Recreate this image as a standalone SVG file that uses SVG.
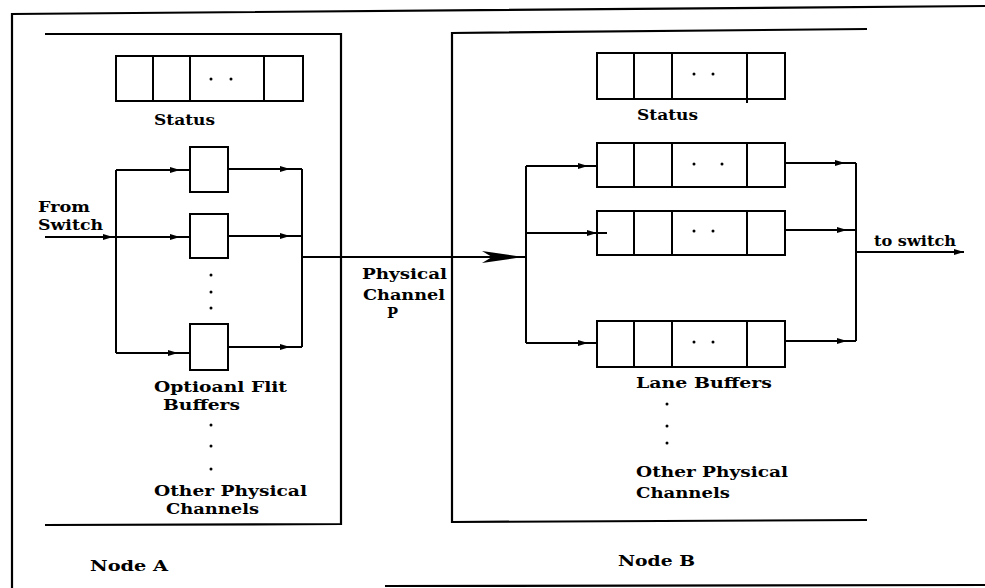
<svg xmlns="http://www.w3.org/2000/svg" xmlns:xlink="http://www.w3.org/1999/xlink" width="985" height="588" viewBox="0 0 985 588">
<style>
.frame{fill:none;stroke:#000;stroke-width:2.2}
.box{fill:none;stroke:#000;stroke-width:2.2}
.ln{fill:none;stroke:#000;stroke-width:2}
.cell{fill:#fff;stroke:#000;stroke-width:2}
.dot{fill:#000}
text{font-family:"DejaVu Serif","Liberation Serif",serif;font-weight:bold;font-size:14px;fill:#000}
</style>
<defs>
<path id="ah" d="M-10,-3 L0,0 L-10,3 Z" fill="#000"/>
</defs>
<rect x="0" y="0" width="985" height="588" fill="#fff"/>
<g id="frame">
<path class="frame" d="M985,6 L12,14 L12,588"/>
<path class="frame" d="M385,586 L985,585"/>
</g>
<g id="nodeA">
<path class="box" d="M45,34 L341,34 L341,524 L45,525"/>
<g id="statusA">
<rect class="cell" x="116" y="56" width="187" height="45"/>
<path class="ln" d="M153,56 V101 M190,56 V101 M264,56 V101"/>
<circle class="dot" cx="211" cy="79" r="1.5"/><circle class="dot" cx="231" cy="79" r="1.5"/>
<text x="154" y="125" textLength="61" lengthAdjust="spacingAndGlyphs">Status</text>
</g>
<g id="flitA">
<rect class="cell" x="190" y="147" width="38" height="45"/>
<rect class="cell" x="190" y="214" width="38" height="44"/>
<rect class="cell" x="190" y="324" width="38" height="46"/>
<circle class="dot" cx="211" cy="275" r="1.5"/><circle class="dot" cx="211" cy="292" r="1.5"/><circle class="dot" cx="211" cy="308" r="1.5"/>
<text x="154" y="392" textLength="133" lengthAdjust="spacingAndGlyphs">Optioanl Flit</text>
<text x="163" y="410" textLength="77" lengthAdjust="spacingAndGlyphs">Buffers</text>
</g>
<circle class="dot" cx="211" cy="425" r="1.5"/><circle class="dot" cx="211" cy="446" r="1.5"/><circle class="dot" cx="211" cy="469" r="1.5"/>
<text x="154" y="496" textLength="153" lengthAdjust="spacingAndGlyphs">Other Physical</text>
<text x="166" y="514" textLength="93" lengthAdjust="spacingAndGlyphs">Channels</text>
<text x="90" y="571" textLength="78" lengthAdjust="spacingAndGlyphs">Node A</text>
<text x="38" y="212" textLength="52" lengthAdjust="spacingAndGlyphs">From</text>
<text x="38" y="230" textLength="65" lengthAdjust="spacingAndGlyphs">Switch</text>
</g>
<g id="channel">
<text x="362" y="279" textLength="85" lengthAdjust="spacingAndGlyphs">Physical</text>
<text x="363" y="300" textLength="82" lengthAdjust="spacingAndGlyphs">Channel</text>
<text x="387" y="318" textLength="11" lengthAdjust="spacingAndGlyphs">P</text>
</g>
<g id="nodeB">
<path class="box" d="M867,29 L452,33 L452,522 L867,520"/>
<g id="statusB">
<rect class="cell" x="597" y="53" width="188" height="46"/>
<path class="ln" d="M634,53 V99 M672,53 V99 M747,53 V103"/>
<circle class="dot" cx="694" cy="74" r="1.5"/><circle class="dot" cx="713" cy="74" r="1.5"/>
<text x="637" y="120" textLength="61" lengthAdjust="spacingAndGlyphs">Status</text>
</g>
<g id="lanesB">
<rect class="cell" x="597" y="143" width="188" height="44"/>
<path class="ln" d="M634,143 V187 M672,143 V187 M747,143 V187"/>
<circle class="dot" cx="694" cy="164" r="1.5"/><circle class="dot" cx="722" cy="164" r="1.5"/>
<rect class="cell" x="597" y="211" width="188" height="44"/>
<path class="ln" d="M634,211 V255 M672,211 V255 M747,211 V255"/>
<circle class="dot" cx="694" cy="231" r="1.5"/><circle class="dot" cx="713" cy="231" r="1.5"/>
<rect class="cell" x="597" y="321" width="188" height="46"/>
<path class="ln" d="M634,321 V367 M672,321 V367 M747,321 V367"/>
<circle class="dot" cx="694" cy="342" r="1.5"/><circle class="dot" cx="713" cy="342" r="1.5"/>
<text x="636" y="388" textLength="136" lengthAdjust="spacingAndGlyphs">Lane Buffers</text>
</g>
<circle class="dot" cx="667" cy="404" r="1.5"/><circle class="dot" cx="667" cy="426" r="1.5"/><circle class="dot" cx="667" cy="443" r="1.5"/>
<text x="636" y="477" textLength="152" lengthAdjust="spacingAndGlyphs">Other Physical</text>
<text x="636" y="498" textLength="94" lengthAdjust="spacingAndGlyphs">Channels</text>
<text x="618" y="566" textLength="77" lengthAdjust="spacingAndGlyphs">Node B</text>
<text x="874" y="246" textLength="82" lengthAdjust="spacingAndGlyphs">to switch</text>
</g>
<g id="connectors">
<path class="ln" d="M45,237 H116 M116,170 V353 M116,170 H190 M116,237 H190 M116,353 H190"/>
<path class="ln" d="M228,169 H302 M228,236 H302 M228,347 H302 M302,169 V347"/>
<path class="ln" d="M302,257 H526"/>
<polygon points="482,251 523,257 482,263 492,257" fill="#000"/>
<path class="ln" d="M526,166 V343 M526,166 H597 M526,233 H607 M526,343 H597"/>
<path class="ln" d="M785,163 H856 M785,230 H856 M785,341 H856 M856,163 V341 M856,252 H964"/>
<use xlink:href="#ah" x="113" y="237"/>
<use xlink:href="#ah" x="180" y="170"/>
<use xlink:href="#ah" x="180" y="237"/>
<use xlink:href="#ah" x="178" y="353"/>
<use xlink:href="#ah" x="290" y="169"/>
<use xlink:href="#ah" x="290" y="236"/>
<use xlink:href="#ah" x="290" y="347"/>
<use xlink:href="#ah" x="588" y="166"/>
<use xlink:href="#ah" x="597" y="233"/>
<use xlink:href="#ah" x="588" y="343"/>
<use xlink:href="#ah" x="845" y="163"/>
<use xlink:href="#ah" x="847" y="230"/>
<use xlink:href="#ah" x="847" y="341"/>
<use xlink:href="#ah" x="964" y="252"/>
</g>
</svg>
